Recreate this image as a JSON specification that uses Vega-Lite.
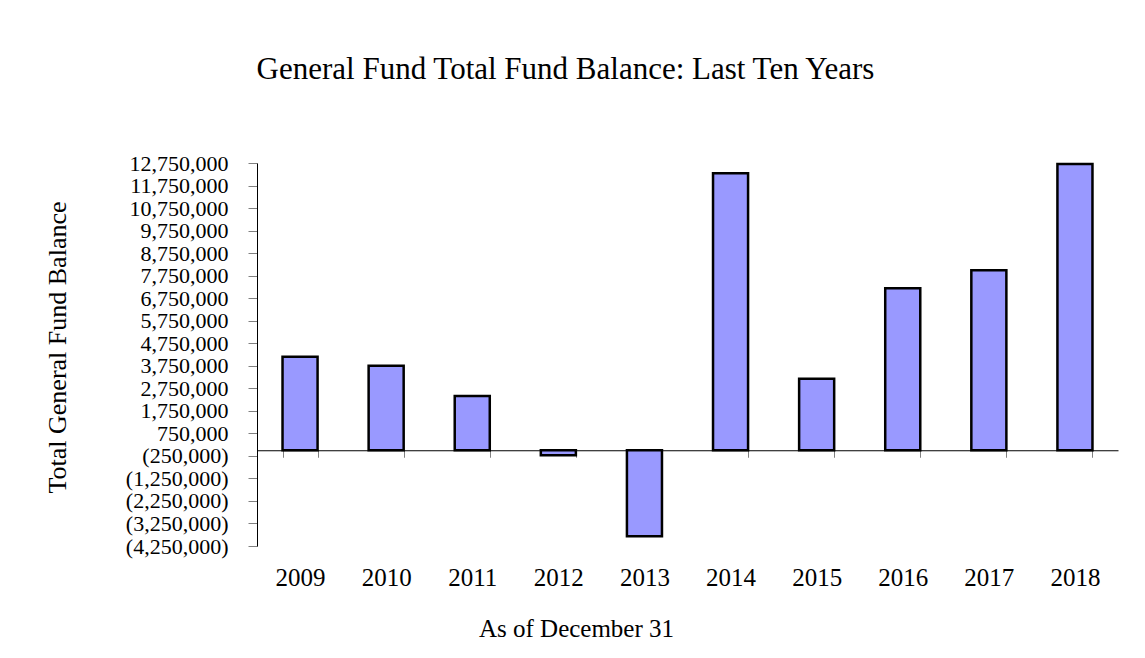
{
  "$schema": "https://vega.github.io/schema/vega-lite/v6.json",
  "width": 861,
  "height": 383,
  "autosize": {"type": "none"},
  "padding": {"left": 257, "top": 163, "right": 27, "bottom": 112},
  "background": "white",
  "config": {
    "view": {"stroke": null},
    "font": "Liberation Serif"
  },
  "title": {
    "text": "General Fund Total Fund Balance: Last Ten Years",
    "font": "Liberation Serif",
    "fontSize": 31,
    "fontWeight": "normal",
    "color": "black",
    "anchor": "middle",
    "frame": "group",
    "dx": -122,
    "offset": 66
  },
  "data": {
    "values": [
      {"year": "2009", "balance": 4150000},
      {"year": "2010", "balance": 3750000},
      {"year": "2011", "balance": 2410000},
      {"year": "2012", "balance": -220000},
      {"year": "2013", "balance": -3820000},
      {"year": "2014", "balance": 12300000},
      {"year": "2015", "balance": 3170000},
      {"year": "2016", "balance": 7190000},
      {"year": "2017", "balance": 7990000},
      {"year": "2018", "balance": 12710000}
    ]
  },
  "mark": {"type": "bar", "fill": "#9999FF", "stroke": "black", "strokeWidth": 2.5},
  "encoding": {
    "x": {
      "field": "year",
      "type": "nominal",
      "sort": null,
      "scale": {"paddingInner": 0.593, "paddingOuter": 0.2965},
      "axis": {
        "title": "As of December 31",
        "titleFont": "Liberation Serif",
        "titleFontSize": 25,
        "titleFontWeight": "normal",
        "titleColor": "black",
        "titlePadding": 26,
        "titleX": 319,
        "titleAnchor": "start",
        "titleAlign": "center",
        "labelFont": "Liberation Serif",
        "labelFontSize": 25,
        "labelColor": "black",
        "labelAngle": 0,
        "labelPadding": 108,
        "offset": -95.75,
        "domainColor": "black",
        "domainWidth": 1,
        "tickBand": "extent",
        "tickSize": 7,
        "tickColor": "#808080",
        "grid": false
      }
    },
    "y": {
      "field": "balance",
      "type": "quantitative",
      "scale": {"domain": [-4250000, 12750000], "nice": false, "zero": false},
      "axis": {
        "title": "Total General Fund Balance",
        "titleFont": "Liberation Serif",
        "titleFontSize": 26,
        "titleFontWeight": "normal",
        "titleColor": "black",
        "titlePadding": 55,
        "titleY": 184,
        "titleAnchor": "start",
        "titleAlign": "center",
        "values": [-4250000, -3250000, -2250000, -1250000, -250000, 750000, 1750000, 2750000, 3750000, 4750000, 5750000, 6750000, 7750000, 8750000, 9750000, 10750000, 11750000, 12750000],
        "labelExpr": "datum.value < 0 ? '(' + format(-datum.value, ',') + ')' : format(datum.value, ',')",
        "labelFont": "Liberation Serif",
        "labelFontSize": 22,
        "labelColor": "black",
        "labelPadding": 20,
        "labelOverlap": false,
        "labelFlush": false,
        "domainColor": "black",
        "domainWidth": 1,
        "tickSize": 9,
        "tickColor": "#808080",
        "grid": false
      }
    }
  }
}
